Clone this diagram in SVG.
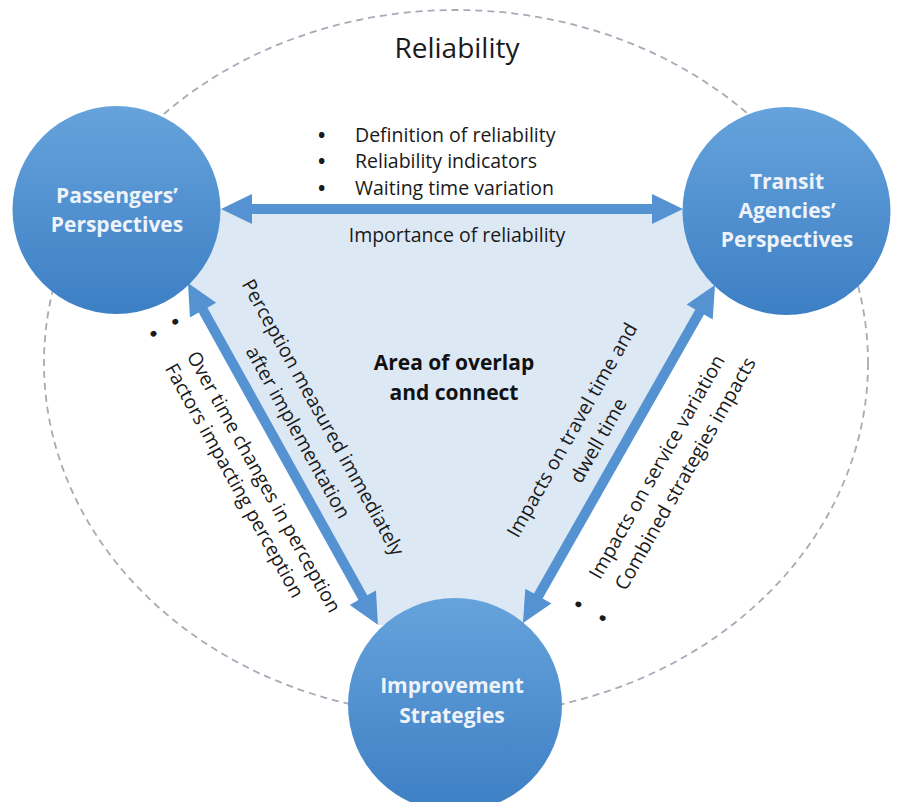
<svg xmlns="http://www.w3.org/2000/svg" width="901" height="802" viewBox="0 0 901 802">
<defs>
<linearGradient id="cg" x1="0" y1="0" x2="0" y2="1">
<stop offset="0" stop-color="#66a3dc"/>
<stop offset="1" stop-color="#3d7fc4"/>
</linearGradient>
<style>
.node circle{fill:url(#cg);}
.nl{font-family:"Open Sans","DejaVu Sans",sans-serif;font-weight:bold;font-size:21px;fill:#eef3fa;text-anchor:middle;}
.t{font-family:"Open Sans","DejaVu Sans",sans-serif;font-size:19.5px;fill:#1a1a1a;}
.b{font-weight:bold;}
.c{text-anchor:middle;}
.arrow{fill:#5592d2;}
</style>
</defs>
<rect width="901" height="802" fill="#ffffff"/>
<ellipse cx="456" cy="363" rx="412" ry="353" fill="none" stroke="#a9a9b8" stroke-width="1.8" stroke-dasharray="7 5"/>
<polygon points="190,209 718,209 716,285 523,625 378,625 188,285" fill="#dde8f5"/>
<text x="457" y="58" class="t c" style="font-size:28px">Reliability</text>
<g id="connectors">
<polygon class="arrow" points="221,209 252,194 252,204 652,204 652,194 683,209 652,224 652,214 252,214 252,224"/>
<g transform="translate(188,283) rotate(60.94)">
<polygon class="arrow" points="0,0 31,-15 31,-5 360,-5 360,-15 391,0 360,15 360,5 31,5 31,15"/>
</g>
<g transform="translate(523,623) rotate(-60.4)">
<polygon class="arrow" points="0,0 31,-15 31,-5 357.7,-5 357.7,-15 388.7,0 357.7,15 357.7,5 31,5 31,15"/>
</g>
</g>
<g id="labels">
<text class="t b" x="318" y="142">•</text>
<text class="t b" x="318" y="168">•</text>
<text class="t b" x="318" y="195">•</text>
<text class="t" x="355" y="142">Definition of reliability</text>
<text class="t" x="355" y="168">Reliability indicators</text>
<text class="t" x="355" y="195">Waiting time variation</text>
<text class="t c" x="457" y="242">Importance of reliability</text>
<g transform="translate(188,283) rotate(60.94)">
<text class="t c" x="183" y="-46">Perception measured immediately</text>
<text class="t c" x="184" y="-17">after implementation</text>
<text class="t b" x="24" y="37">•</text>
<text class="t b" x="24" y="62">•</text>
<text class="t" x="63" y="37">Over time changes in perception</text>
<text class="t" x="63" y="62">Factors impacting perception</text>
</g>
<g transform="translate(523,623) rotate(-60.4)">
<text class="t c" x="192" y="-46">Impacts on travel time and</text>
<text class="t c" x="196" y="-18">dwell time</text>
<text class="t b" x="40" y="46">•</text>
<text class="t b" x="40" y="74">•</text>
<text class="t" x="75" y="46">Impacts on service variation</text>
<text class="t" x="78" y="74">Combined strategies impacts</text>
</g>
<text class="t c b" x="454" y="370" style="font-size:21px;fill:#111">Area of overlap</text>
<text class="t c b" x="454" y="400" style="font-size:21px;fill:#111">and connect</text>
</g>
<g id="passengers" class="node">
<circle cx="116.5" cy="210" r="104"/>
<text class="nl" x="117" y="203">Passengers’</text>
<text class="nl" x="117" y="232">Perspectives</text>
</g>
<g id="transit" class="node">
<circle cx="786.5" cy="211" r="104"/>
<text class="nl" x="787" y="189">Transit</text>
<text class="nl" x="787" y="218">Agencies’</text>
<text class="nl" x="787" y="247">Perspectives</text>
</g>
<g id="improvement" class="node">
<circle cx="455" cy="705" r="107"/>
<text class="nl" x="452" y="693">Improvement</text>
<text class="nl" x="452" y="723">Strategies</text>
</g>
</svg>
